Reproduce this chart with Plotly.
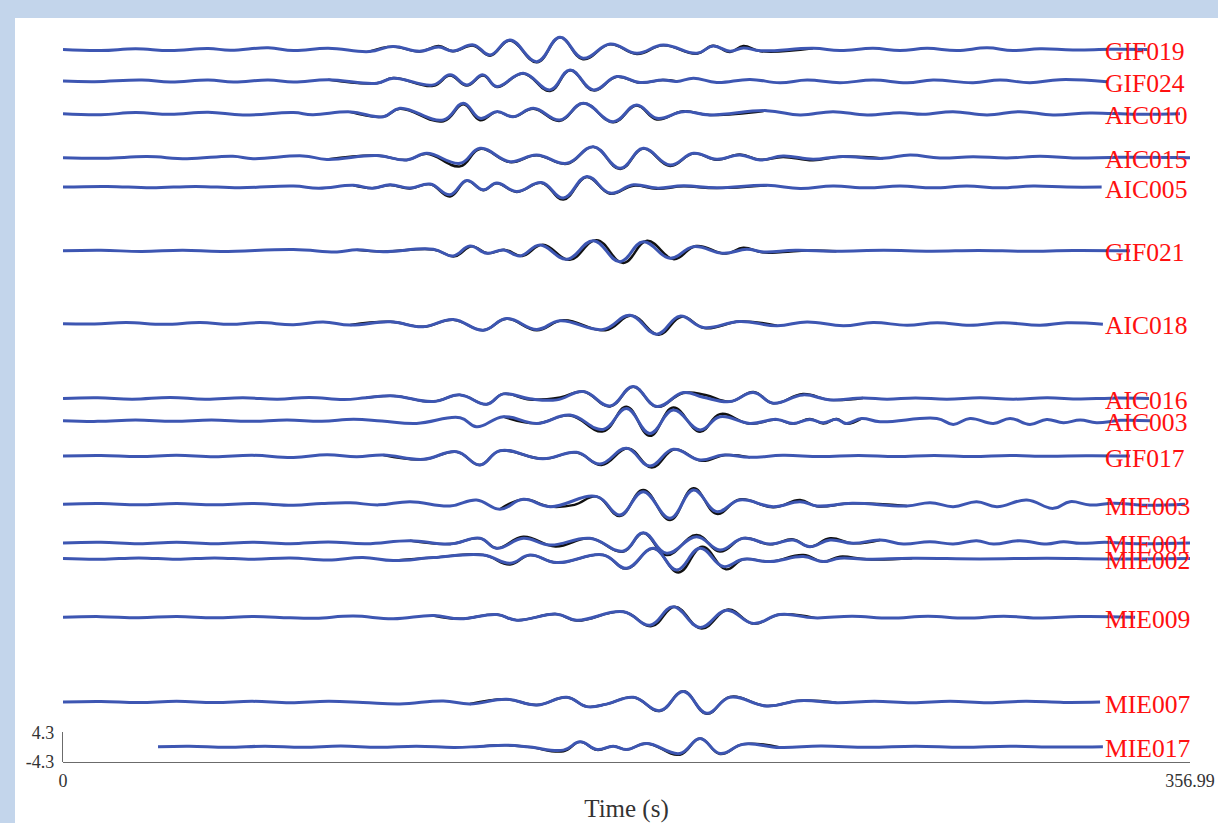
import plotly.graph_objects as go

# ---------------- data (time in s, amplitude in scale-bar units) ----------------
STATIONS = ["GIF019", "GIF024", "AIC010", "AIC015", "AIC005", "GIF021", "AIC018", "AIC016",
            "AIC003", "GIF017", "MIE003", "MIE001", "MIE002", "MIE009", "MIE007", "MIE017"]
OFFSETS = [201.3, 192.2, 182.8, 170.1, 161.6, 143.2, 122.2, 100.6,
           94.2, 84.0, 70.1, 58.9, 54.4, 37.5, 13.0, 0.1]
T_MAX = 356.99
SCALE = 4.3
LABEL_T = 329.5

GIF019_T = [0, 12, 23, 34, 46, 53, 65, 73, 84, 97, 104.5, 113, 119, 123.5, 130, 135.3, 141.6, 150.1, 157.4, 164.7,
            173.3, 181.8, 190.1, 200.8, 205.9, 211.3, 215.5, 221, 237.6, 246.1, 256.6, 265.1, 273.7, 283.2, 292.7,
            300.9, 309.5, 319.9, 332, 343.4]
GIF019_SYN = [0, -0.3, 0.2, -0.3, 0.3, -0.2, 0.5, -0.3, 0.4, -0.6, 0.85, -0.5, 0.7, -0.4, 1.33, -1.56, 2.77, -3.49,
              3.55, -2.51, 1.62, -1.07, 1.33, -1.07, 1.04, -0.5, 0.45, -0.35, 0.35, -0.3, 0.35, -0.3, 0.35, -0.3,
              0.5, -0.3, 0.2, -0.1, 0.05, 0]
GIF019_OBS_T = [97, 104.5, 113, 119, 123.5, 130, 135.3, 141.6, 150.1, 157.4, 164.7, 173.3, 181.8, 190.1, 200.8, 205.9,
                211.3, 215.5, 221, 237.6]
GIF019_OBS = [-0.6, 0.85, -0.6, 1.0, -0.5, 1.1, -1.8, 2.6, -3.7, 3.5, -2.8, 1.5, -1.3, 1.2, -1.2, 1.1, -0.7, 1.0,
              -0.5, 0.35]

GIF024_T = [0, 10, 25, 34, 46, 54, 65, 73, 84, 99.4, 104.6, 117.3, 122.6, 127.9, 133.1, 137.4, 145.8, 154.3, 160.6,
            168.0, 175.4, 182.8, 190, 194.5, 199.7, 207.1, 217.6, 227.1, 235.7, 246.1, 256.6, 267.4, 275.6, 288.3,
            296.8, 306.3, 315.8, 330.7]
GIF024_SYN = [0, -0.2, 0.3, -0.3, 0.3, -0.3, 0.3, -0.3, 0.4, -0.62, 0.83, -1.1, 1.79, -1.1, 1.79, -1.58, 2.27, -2.54,
              3.23, -2.54, 1.31, -0.4, 0.3, -0.1, 0.83, -0.42, 0.48, -0.48, 0.3, -0.48, 0.3, -0.48, 0.3, -0.48, 0.3,
              -0.48, 0.4, -0.2]
GIF024_OBS_T = [84, 99.4, 104.6, 117.3, 122.6, 127.9, 133.1, 137.4, 145.8, 154.3, 160.6, 168.0, 175.4, 182.8, 190,
                194.5]
GIF024_OBS = [0.4, -0.62, 0.9, -1.4, 1.6, -1.3, 1.6, -1.7, 2.2, -2.9, 3.1, -2.7, 1.2, -0.5, 0.3, -0.1]

AIC010_T = [0, 12, 23, 34, 46, 57, 73, 79, 91, 101.5, 106.7, 120.5, 126.8, 132.1, 137.4, 142.6, 149.0, 157.4, 164.8,
            174.3, 181.7, 188.1, 196.5, 204.9, 222.9, 233.5, 243.9, 254.7, 265.1, 272.4, 281.9, 292.7, 303.1, 313.6,
            325.3, 340, 353.8]
AIC010_SYN = [0, -0.3, 0.3, -0.2, 0.4, -0.4, 0.3, -0.3, 0.5, -0.87, 1.54, -1.83, 2.98, -1.35, 0.58, -0.87, 1.54, -1.83,
              2.98, -2.31, 2.5, -1.35, 0.58, -0.38, 0.87, -0.38, 0.58, -0.38, 0.29, -0.2, 0.58, -0.38, 0.58, -0.38,
              0.2, -0.2, 0]
AIC010_OBS_T = [91, 101.5, 106.7, 120.5, 126.8, 132.1, 137.4, 142.6, 149.0, 157.4, 164.8, 174.3, 181.7, 188.1, 196.5,
                204.9, 222.9]
AIC010_OBS = [0.5, -0.87, 1.4, -2.2, 2.7, -1.9, 0.5, -0.9, 1.4, -2.1, 3.0, -2.5, 2.3, -1.7, 0.7, -0.4, 0.87]

AIC015_T = [0, 13, 26.6, 39.3, 53.8, 60.2, 76, 83.6, 99.4, 108.9, 115.2, 125.8, 132.1, 141.6, 150.0, 159.6, 168.0,
            176.5, 183.8, 192.3, 199.7, 207.1, 214.4, 220.8, 228.1, 237.6, 246.1, 259.8, 268.3, 277.8, 288.3, 299.0,
            309.5, 319.9, 335, 357]
AIC015_SYN = [0, -0.2, 0.3, -0.3, 0.4, -0.3, 0.5, -0.5, 0.6, -0.67, 1.25, -1.64, 2.69, -1.15, 0.77, -1.64, 3.17, -3.08,
              2.69, -2.12, 1.25, -0.48, 0.77, -0.67, 0.48, -0.48, 0.29, -0.2, 0.77, -0.1, 0.29, -0.1, 0.4, -0.1, 0.1, 0]
AIC015_OBS_T = [83.6, 99.4, 108.9, 115.2, 125.8, 132.1, 141.6, 150.0, 159.6, 168.0, 176.5, 183.8, 192.3, 199.7, 207.1,
                214.4, 220.8, 228.1, 237.6, 246.1, 259.8]
AIC015_OBS = [-0.5, 0.6, -0.67, 1.1, -2.5, 2.5, -1.3, 0.7, -1.8, 3.1, -3.3, 2.6, -2.4, 1.2, -0.6, 0.9, -0.6, 0.2, -0.8,
              0.29, -0.2]

AIC005_T = [0, 14, 28, 42, 56, 73, 81, 92, 98, 103.6, 109.9, 116.3, 122.6, 127.9, 133.1, 137.4, 143.7, 151.6, 158.5,
            165.9, 173.3, 180.7, 188.1, 196.5, 207.1, 223, 233.5, 243.9, 254.7, 265.1, 275.6, 286.3, 296.8, 307.3,
            318, 329]
AIC005_SYN = [0, 0.2, -0.2, 0.2, -0.2, 0.3, -0.3, 0.5, -0.3, 0.67, -0.29, 0.87, -2.21, 1.92, -0.77, 1.15, -1.25, 1.3,
              -3.17, 3.08, -1.73, 0.67, -0.29, 0.38, -0.19, 0.5, -0.4, 0.3, -0.2, 0.3, -0.2, 0.3, -0.2, 0.3, 0, 0]
AIC005_OBS_T = [92, 98, 103.6, 109.9, 116.3, 122.6, 127.9, 133.1, 137.4, 143.7, 151.6, 158.5, 165.9, 173.3, 180.7,
                188.1, 196.5, 207.1, 223]
AIC005_OBS = [0.5, -0.3, 0.6, -0.4, 0.8, -2.7, 1.8, -0.9, 1.1, -1.4, 1.2, -3.6, 2.9, -1.9, 0.4, -0.5, 0.2, -0.3, 0.5]

GIF021_T = [0, 12, 25, 38, 50, 73, 86.8, 93, 101.4, 117.3, 123.6, 128.9, 134.2, 139.5, 144.8, 151.1, 159.6, 168.0,
            176.4, 183.8, 192.3, 199.7, 209.2, 216.6, 222, 232, 245, 260, 275, 290, 305, 320, 338]
GIF021_SYN = [0, 0.15, -0.15, 0.2, -0.2, 0.4, -0.3, 0.3, -0.22, 0.45, -1.47, 1.41, -0.7, 0.26, -1.47, 1.7, -2.43, 2.95,
              -3.11, 2.66, -2.15, 1.22, -0.7, 0.45, -0.3, 0.15, -0.1, 0.15, -0.1, 0.1, -0.1, 0.1, 0]
GIF021_OBS_T = [93, 101.4, 117.3, 124, 129.5, 134.5, 140, 145.5, 152, 160.5, 169, 177.5, 185, 193.5, 200.5, 210, 215.5,
                221.5, 228, 236, 245]
GIF021_OBS = [0.3, -0.22, 0.4, -1.6, 1.3, -0.7, 0.3, -1.5, 1.8, -2.6, 3.1, -3.5, 2.9, -2.4, 1.4, -0.8, 0.9, -0.45,
              -0.35, 0.1, -0.1]

AIC018_T = [0, 10, 20, 32, 43.4, 53, 62.4, 73, 82.4, 91, 103.6, 114.1, 123.6, 133.1, 140.5, 150.1, 157.4, 171.1,
            179.6, 188.1, 195.4, 202.8, 214.4, 226.2, 235.7, 247.2, 256.6, 267.4, 276.9, 287.3, 297.8, 309.5, 318, 329.4]
AIC018_SYN = [0, -0.1, 0.3, -0.2, 0.3, -0.2, 0.3, -0.3, 0.5, -0.4, 0.53, -0.91, 1.2, -1.88, 1.49, -1.68, 0.82, -1.68,
              2.45, -3.03, 2.16, -1.11, 0.6, -0.6, 0.5, -0.6, 0.3, -0.45, 0.25, -0.45, 0.25, -0.45, 0.25, -0.15]
AIC018_OBS_T = [91, 103.6, 114.1, 123.6, 133.1, 140.5, 150.1, 158.5, 171.8, 180.2, 188.7, 196, 203.3, 214.4, 226.2]
AIC018_OBS = [-0.4, 0.53, -0.9, 1.1, -1.9, 1.4, -1.9, 1.0, -1.9, 2.3, -3.2, 2.0, -1.3, 0.6, -0.6]

AIC016_T = [0, 11, 22, 34, 45, 57, 68, 78, 89, 96, 104.6, 117.3, 125.8, 134.2, 139.5, 147.9, 156.4, 164.8, 173.3,
            180.6, 188.1, 196.5, 202.8, 211.3, 218.7, 225.0, 234.4, 243, 253.4, 261, 270, 280, 290.5, 301, 311.7,
            322.2, 332, 344]
AIC016_SYN = [0, 0.2, -0.2, 0.3, -0.2, 0.2, -0.2, 0.3, -0.3, 0.2, 0.75, -0.89, 1.04, -1.65, 1.33, -0.1, -0.4, 2.0,
              -2.14, 3.44, -2.33, 1.71, 0.37, -0.89, 1.71, -1.37, 1.04, -0.4, 0.15, -0.2, 0.15, -0.2, 0.2, -0.2, 0.2,
              -0.15, 0.1, 0]
AIC016_OBS_T = [96, 104.6, 117.3, 125.8, 134.2, 139.5, 147.9, 157.5, 164.8, 173.3, 180.6, 188.1, 196.5, 203.5, 211.3,
                218.7, 225.0, 234.4, 243, 253.4]
AIC016_OBS = [0.2, 0.75, -0.89, 1.04, -1.65, 1.33, -0.3, 0.3, 2.0, -2.3, 3.4, -2.4, 1.6, 1.0, -0.9, 1.9, -1.4, 1.3,
              -0.4, 0.15]

AIC003_T = [0, 11, 23, 35, 47, 59, 71, 82, 92, 101, 112.0, 125.8, 131.0, 139.5, 150.1, 160.6, 171.1, 178.5, 185.9,
            193.3, 201.8, 208.1, 217.6, 226.1, 231.3, 236.6, 240.8, 245.1, 248.2, 253.0, 258.8, 276.8, 282.0, 287.3,
            294.7, 300.0, 306.3, 311.6, 316.9, 322.2, 327.4, 335, 344.3]
AIC003_SYN = [0, -0.2, 0.2, -0.2, 0.2, -0.2, 0.2, -0.2, 0.4, -0.1, -0.79, 0.85, -1.75, 1.14, -0.79, 1.62, -2.52, 3.54,
              -3.67, 3.06, -2.71, 1.14, -0.79, 0.37, -0.79, 0.37, -0.6, 0.37, -0.79, 0.65, -0.3, 0.65, -1.08, 0.65,
              -0.79, 0.65, -1.08, 0.37, -0.6, 0.2, -0.6, 0.1, 0]
AIC003_OBS_T = [139.5, 150.1, 160.6, 171.1, 178.5, 185.9, 193.3, 201.8, 208.1, 217.6, 226.1, 231.3, 236.6, 240.8,
                245.1, 248.2, 253.0]
AIC003_OBS = [1.14, -0.79, 1.5, -3.1, 4.0, -4.4, 3.8, -3.2, 1.9, -0.9, 0.3, -0.9, 0.5, -0.8, 0.5, -0.9, 0.65]

GIF017_T = [0, 12, 24, 36, 48, 60, 73, 83.6, 93, 101.5, 114.1, 124.7, 132.1, 138.4, 152, 162.7, 170.1, 178.5, 185.9,
            193.3, 201.8, 209.2, 217.6, 228, 240, 252, 264, 276, 288, 300, 312, 324, 338]
GIF017_SYN = [0, 0.15, -0.15, 0.2, -0.2, 0.2, -0.4, 0.4, -0.2, 0.29, -0.96, 1.25, -2.6, 1.54, -0.8, 1.06, -2.31, 2.21,
              -2.89, 1.92, -1.15, 0.29, -0.38, 0.2, -0.15, 0.15, -0.15, 0.15, -0.15, 0.15, -0.1, 0.1, 0]
GIF017_OBS_T = [101.5, 114.1, 124.7, 132.1, 138.4, 152, 162.7, 170.6, 179, 186.5, 193.8, 202.3, 209.7, 217.6]
GIF017_OBS = [0.29, -0.96, 1.2, -2.6, 1.5, -0.8, 1.0, -2.6, 2.2, -3.3, 1.9, -1.4, 0.29, -0.38]

MIE003_T = [0, 12, 24, 36, 48, 60, 73, 82, 91, 100, 109.9, 122.6, 131.0, 138.4, 145.8, 154.3, 169.1, 176.4, 183.8,
            192.3, 199.7, 207.1, 214.4, 225.0, 233.5, 238.8, 250, 267.3, 274.7, 282.0, 289.4, 295.8, 305.3, 313.7,
            319.0, 325.3, 333, 342, 355.4]
MIE003_SYN = [0, 0.2, -0.2, 0.2, -0.2, 0.2, -0.3, 0.2, 0.4, -0.2, 0.73, -0.52, 1.21, -1.48, 1.4, -0.71, 2.17, -3.12,
              3.62, -4.08, 4.1, -2.15, 1.21, -0.71, 0.73, -0.52, 0.25, -0.52, 0.44, -0.71, 0.73, -0.71, 1.21, -1.21,
              0.73, -0.23, 0.3, -0.3, 0]
MIE003_OBS_T = [138.4, 145.8, 154.3, 162, 169.1, 176.4, 183.8, 192.3, 199.7, 207.1, 214.4, 225.0, 233.5, 238.8, 250,
                267.3]
MIE003_OBS = [-1.48, 1.4, -0.71, -0.2, 2.2, -3.4, 4.1, -4.6, 4.6, -2.8, 1.4, -0.9, 1.2, -0.6, 0.25, -0.52]

MIE001_T = [0, 12, 24, 36, 48, 60, 72, 84, 96, 109.9, 122.6, 132.1, 137.4, 145.8, 154.3, 166.9, 177.5, 183.8, 191.2,
            200.7, 208.1, 215.5, 224.0, 231.3, 236.6, 243.0, 250.3, 258.8, 266.2, 274.6, 282.0, 289.4, 294.7, 303.1,
            311.6, 316.9, 322.2, 330, 340, 357]
MIE001_SYN = [0, 0.2, -0.2, 0.2, -0.2, 0.2, -0.2, 0.3, -0.2, 0.67, -0.29, 1.35, -1.54, 1.35, -0.58, 1.35, -2.31, 2.98,
              -2.98, 1.83, -2.02, 1.35, -0.29, 0.87, -1.06, 0.87, -0.1, 0.87, -0.29, 0.38, -0.29, 0.67, -0.29, 0.67,
              -0.29, 0.38, -0.1, 0.2, -0.2, 0]
MIE001_OBS_T = [109.9, 122.6, 132.1, 137.4, 145.8, 156, 166.9, 177.5, 183.8, 191.2, 200.7, 208.1, 215.5, 224.0, 231.3,
                236.6, 243.0, 250.3, 258.8]
MIE001_OBS = [0.67, -0.29, 1.35, -1.5, 1.8, -1.0, 1.35, -2.5, 2.9, -3.5, 2.3, -2.5, 1.4, -0.4, 1.06, -1.1, 1.35, -0.1,
              0.87]

MIE002_T = [0, 12, 24, 36, 48, 60, 72, 84, 95, 104.6, 117.3, 133.1, 141.6, 147.9, 156.4, 171.1, 178.5, 187.0, 194.4,
            201.8, 209.2, 215.5, 224.0, 234.5, 240.8, 246.1, 254.6, 269, 290.5, 311.7, 330, 357]
MIE002_SYN = [0, -0.2, 0.2, -0.2, 0.2, -0.2, 0.2, -0.4, 0.3, -0.58, 0.29, 1.06, -1.35, 1.06, -1.15, 1.06, -2.79, 2.98,
              -3.27, 2.98, -2.31, -0.2, -0.87, 0.58, -0.87, 0.1, -0.2, 0.1, -0.1, 0.1, -0.1, 0]
MIE002_OBS_T = [104.6, 117.3, 133.1, 141.6, 147.9, 156.4, 171.1, 178.5, 187.0, 195, 202.5, 210, 215.5, 224.0, 234.5,
                240.8, 246.1, 254.6, 269]
MIE002_OBS = [-0.58, 0.29, 1.06, -1.7, 1.0, -1.2, 1.06, -2.9, 2.9, -4.0, 3.4, -3.1, -0.2, -0.87, 1.06, -0.9, 0.58,
              -0.2, 0.1]

MIE009_T = [0, 12, 24, 36, 48, 60, 72, 80, 92, 104.6, 117.3, 125.8, 137.4, 143.7, 156.4, 162.7, 177.5, 185.9, 193.3,
            201.8, 210.2, 218.7, 227.1, 238, 250, 262, 274, 286, 298, 310, 322, 339.6]
MIE009_SYN = [0, 0.15, -0.15, 0.2, -0.2, 0.2, -0.2, -0.3, 0.3, -0.48, 0.48, -0.48, 0.77, -0.87, 0.87, -0.87, 1.54,
              -2.31, 2.98, -2.98, 2.02, -1.83, 0.77, -0.2, 0.25, -0.25, 0.25, -0.25, 0.25, -0.25, 0.2, 0]
MIE009_OBS_T = [117.3, 125.8, 137.4, 143.7, 156.4, 162.7, 177.5, 186.5, 193.8, 202.3, 210.7, 218.7, 227.1, 238]
MIE009_OBS = [0.48, -0.48, 0.77, -0.87, 0.87, -1.0, 1.54, -2.6, 3.0, -3.3, 2.2, -1.9, 0.77, -0.2]

MIE007_T = [0, 12, 24, 36, 48, 60, 72, 84, 95, 106.7, 120.5, 128.9, 140.5, 150.1, 159.6, 165.9, 172.2, 180.7, 189.1,
            196.5, 203.9, 211.3, 222.9, 233.5, 245, 257, 269, 281, 293, 305, 317, 328.5]
MIE007_SYN = [0, 0.15, -0.15, 0.2, -0.15, 0.2, -0.2, 0.2, -0.1, -0.55, 0.32, -0.55, 0.8, -0.84, 1.38, -1.32, -0.6,
              1.38, -2.47, 3.01, -3.24, 1.38, -1.13, 0.41, -0.2, 0.2, -0.2, 0.2, -0.2, 0.2, -0.1, 0]
MIE007_OBS_T = [128.9, 140.5, 150.1, 159.6, 165.9, 172.2, 180.7, 189.1, 196.5, 203.9, 211.3, 222.9, 233.5, 245]
MIE007_OBS = [-0.55, 0.8, -0.84, 1.38, -1.32, -0.6, 1.38, -2.6, 3.1, -3.4, 1.5, -1.13, 0.41, -0.2]

MIE017_T = [30.1, 40, 52, 64, 76, 88, 100, 112, 124, 132, 140.5, 148, 158.5, 163.8, 169.1, 174.3, 178.5, 184.9, 195.4,
            201.8, 208.1, 215.5, 227.1, 240, 255, 270, 285, 300, 315, 329.4]
MIE017_SYN = [0, 0.15, -0.15, 0.15, -0.15, 0.2, -0.15, 0.15, -0.2, 0.1, 0.46, -0.1, -0.98, 1.42, -0.79, 0.17, -0.79,
              0.94, -1.94, 2.39, -1.94, 0.75, -0.21, 0.2, -0.15, 0.15, -0.15, 0.15, -0.1, 0]
MIE017_OBS_T = [132, 140.5, 148, 158.5, 163.8, 169.1, 174.3, 178.5, 184.9, 195.4, 201.8, 208.1, 215.5, 227.1]
MIE017_OBS = [0.1, 0.46, -0.1, -1.3, 1.42, -0.9, 0.17, -0.79, 0.94, -2.3, 2.39, -2.1, 0.75, -0.21]

SYN = {
    "GIF019": (GIF019_T, GIF019_SYN), "GIF024": (GIF024_T, GIF024_SYN), "AIC010": (AIC010_T, AIC010_SYN),
    "AIC015": (AIC015_T, AIC015_SYN), "AIC005": (AIC005_T, AIC005_SYN), "GIF021": (GIF021_T, GIF021_SYN),
    "AIC018": (AIC018_T, AIC018_SYN), "AIC016": (AIC016_T, AIC016_SYN), "AIC003": (AIC003_T, AIC003_SYN),
    "GIF017": (GIF017_T, GIF017_SYN), "MIE003": (MIE003_T, MIE003_SYN), "MIE001": (MIE001_T, MIE001_SYN),
    "MIE002": (MIE002_T, MIE002_SYN), "MIE009": (MIE009_T, MIE009_SYN), "MIE007": (MIE007_T, MIE007_SYN),
    "MIE017": (MIE017_T, MIE017_SYN),
}
OBS = {
    "GIF019": (GIF019_OBS_T, GIF019_OBS), "GIF024": (GIF024_OBS_T, GIF024_OBS), "AIC010": (AIC010_OBS_T, AIC010_OBS),
    "AIC015": (AIC015_OBS_T, AIC015_OBS), "AIC005": (AIC005_OBS_T, AIC005_OBS), "GIF021": (GIF021_OBS_T, GIF021_OBS),
    "AIC018": (AIC018_OBS_T, AIC018_OBS), "AIC016": (AIC016_OBS_T, AIC016_OBS), "AIC003": (AIC003_OBS_T, AIC003_OBS),
    "GIF017": (GIF017_OBS_T, GIF017_OBS), "MIE003": (MIE003_OBS_T, MIE003_OBS), "MIE001": (MIE001_OBS_T, MIE001_OBS),
    "MIE002": (MIE002_OBS_T, MIE002_OBS), "MIE009": (MIE009_OBS_T, MIE009_OBS), "MIE007": (MIE007_OBS_T, MIE007_OBS),
    "MIE017": (MIE017_OBS_T, MIE017_OBS),
}

# ---------------- figure ----------------
BLUE = "#3d56b2"
BLACK = "#111111"
AXIS = "#6b6b6b"
SERIF = "Liberation Serif, Times New Roman, serif"

fig = go.Figure()
annotations = []
for name, off in zip(STATIONS, OFFSETS):
    ot, oa = OBS[name]
    fig.add_trace(go.Scatter(x=ot, y=[off + a for a in oa], mode="lines",
                             line=dict(color=BLACK, width=2.4, shape="spline", smoothing=1.2),
                             hoverinfo="skip", showlegend=False))
    st, sa = SYN[name]
    fig.add_trace(go.Scatter(x=st, y=[off + a for a in sa], mode="lines",
                             line=dict(color=BLUE, width=3, shape="spline", smoothing=1.2),
                             hoverinfo="skip", showlegend=False))
    annotations.append(dict(x=LABEL_T, y=off, xref="x", yref="y", text=name, showarrow=False,
                            xanchor="left", yanchor="middle", yshift=-2,
                            font=dict(family=SERIF, size=25.6, color="#ff1010")))

# anchor trace for the amplitude scale-bar axis
fig.add_trace(go.Scatter(x=[0], y=[0], xaxis="x", yaxis="y2", mode="lines",
                         line=dict(width=0), hoverinfo="skip", showlegend=False))

PLOT_H = 744
BAR_PX = 29.8

fig.update_layout(
    width=1218, height=823,
    margin=dict(l=63, r=28, t=18, b=61),
    paper_bgcolor="#c3d5eb",
    plot_bgcolor="rgba(0,0,0,0)",
    annotations=annotations,
    shapes=[dict(type="rect", xref="paper", yref="paper", x0=-0.0426, x1=1.03, y0=-0.0825, y1=1.0,
                 fillcolor="white", line=dict(width=0), layer="below")],
    xaxis=dict(range=[0, T_MAX], showgrid=False, zeroline=False, showline=True, linecolor=AXIS, linewidth=1.2,
               ticks="inside", ticklen=7, tickcolor=AXIS, tickwidth=1.2, automargin=False,
               tickvals=[0, T_MAX], ticktext=["0", "356.99"], ticklabelstandoff=2,
               tickfont=dict(family=SERIF, size=18, color="#333333"),
               title=dict(text="Time (s)", font=dict(family=SERIF, size=25, color="#333333"), standoff=10)),
    yaxis=dict(range=[-SCALE, 210.4], visible=False, showgrid=False, zeroline=False, automargin=False),
    yaxis2=dict(domain=[0, BAR_PX / PLOT_H], range=[-SCALE, SCALE], anchor="x", automargin=False,
                showgrid=False, zeroline=False, showline=True, linecolor=AXIS, linewidth=1.2,
                ticks="inside", ticklen=12, tickcolor=AXIS, tickwidth=1.2, ticklabelstandoff=4,
                tickvals=[-SCALE, SCALE], ticktext=["-4.3", "4.3"],
                tickfont=dict(family=SERIF, size=18, color="#333333")),
)

fig.write_html("out.html", config={"displayModeBar": False},
               post_script="document.body.style.margin='0px';document.body.style.padding='0px';")
